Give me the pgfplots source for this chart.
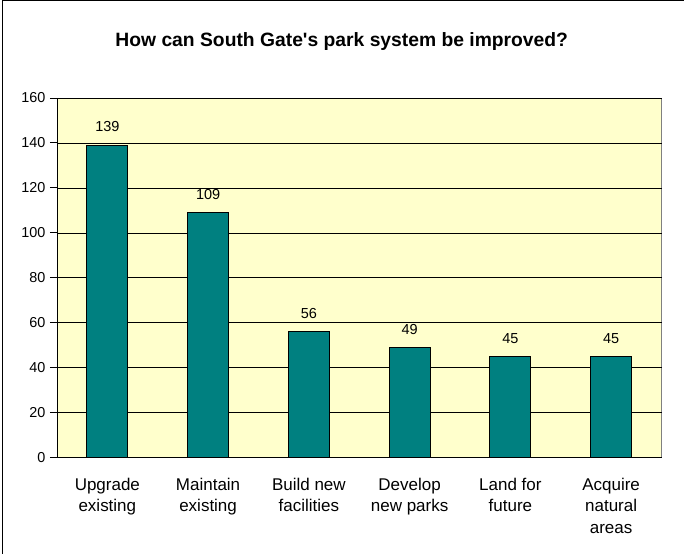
\documentclass[border=0pt]{standalone}
\usepackage{pgfplots}
\pgfplotsset{compat=1.18}
\usepackage{fontspec}
\setmainfont{Liberation Sans}
\definecolor{barteal}{HTML}{008080}
\definecolor{plotbg}{HTML}{FFFFCC}
\begin{document}
\begin{tikzpicture}[x=1pt,y=1pt]
\path (0,0) rectangle (684,554);
\draw[black,line width=1pt] (3,0) -- (3,553.5) -- (684,553.5);
\node[font=\fontsize{19.3}{23}\selectfont\bfseries] at (342,512) {How can South Gate\textquotesingle s park system be improved?};
\begin{axis}[
  at={(57pt,96pt)}, anchor=south west,
  scale only axis, width=605pt, height=360pt,
  xmin=-0.5, xmax=5.5, ymin=0, ymax=160,
  ytick={0,20,...,160},
  ymajorgrids, grid style={black, line width=0.6pt},
  axis background/.style={fill=plotbg, draw=gray},
  axis lines*=left,
  axis line style={black, line width=0.8pt},
  tick style={black, line width=0.8pt},
  major tick length=7pt,
  tick align=outside,
  xtick={0,...,5},
  xticklabels={Upgrade\\existing, Maintain\\existing, Build new\\facilities, Develop\\new parks, Land for\\future, Acquire\\natural\\areas},
  xticklabel style={align=center, font=\fontsize{17}{21.3}\selectfont, anchor=north, yshift=-10pt},
  xtick style={draw=none},
  extra x ticks={-0.5,0.5,...,5.5},
  extra x tick labels={},
  extra x tick style={grid=none, major tick length=5pt, tick style={draw=black}},
  yticklabel style={font=\fontsize{14.4}{17}\selectfont, xshift=-1pt},
  /pgf/number format/assume math mode=true,
  ybar, bar width=41pt,
  nodes near coords,
  every node near coord/.append style={font=\fontsize{14.5}{17}\selectfont, yshift=9.5pt},
  clip=false,
]
\addplot[fill=barteal, draw=black, line width=0.8pt] coordinates {(0,139) (1,109) (2,56) (3,49) (4,45) (5,45)};
\end{axis}
\end{tikzpicture}
\end{document}
